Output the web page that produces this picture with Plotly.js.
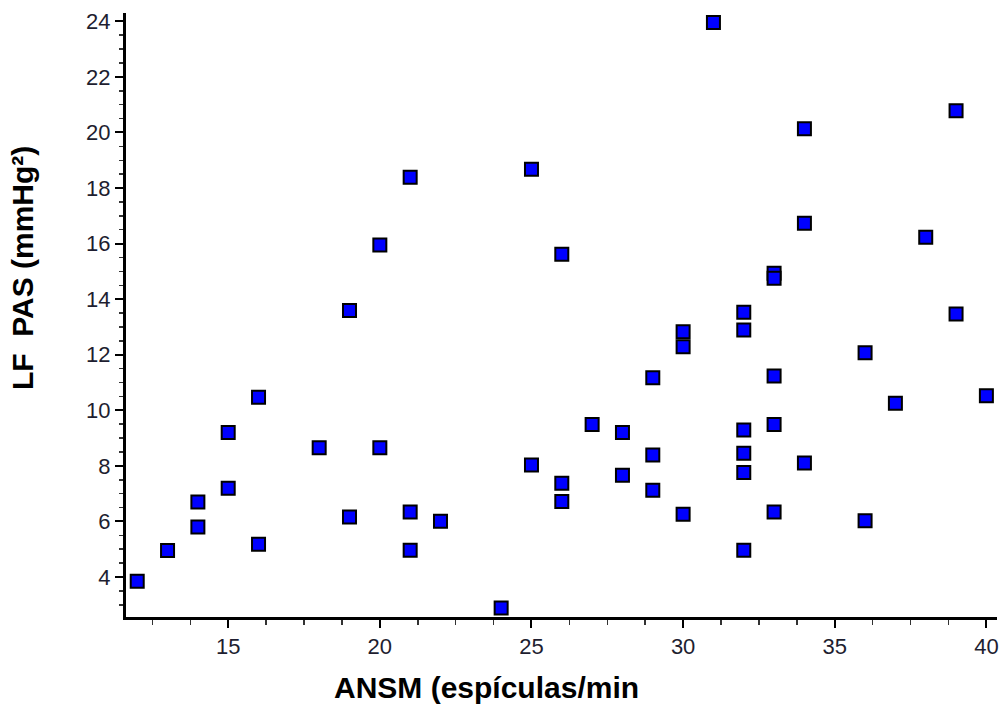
<!DOCTYPE html>
<html>
<head>
<meta charset="utf-8">
<script src="https://cdn.plot.ly/plotly-3.0.1.min.js"></script>
<style>
  html, body { margin: 0; padding: 0; background: #ffffff; }
  #chart { width: 1003px; height: 705px; }
</style>
</head>
<body>
<div id="chart"></div>
<script>
// ANSM (spikes per minute) against LF power of systolic pressure
const ansm = [
  12, 13, 14, 14, 15, 15, 16, 16, 18, 19, 19, 20, 20,
  21, 21, 21, 22, 24, 25, 25, 26, 26, 26, 27, 28, 28,
  29, 29, 29, 30, 30, 30, 31,
  32, 32, 32, 32, 32, 32,
  33, 33, 33, 33, 33,
  34, 34, 34, 36, 36, 37, 38, 39, 39, 40
];
const lfPas = [
  3.85, 4.95, 6.70, 5.80, 9.20, 7.19, 10.47, 5.18, 8.65, 13.59, 6.16, 15.95, 8.65,
  18.39, 6.34, 4.96, 6.01, 2.88, 18.68, 8.03, 15.62, 7.37, 6.72, 9.49, 9.20, 7.66,
  11.17, 8.39, 7.12, 12.83, 12.29, 6.26, 23.96,
  13.53, 12.89, 9.29, 8.45, 7.76, 4.96,
  14.93, 14.75, 11.23, 9.49, 6.34,
  20.13, 16.73, 8.10, 12.07, 6.02, 10.25, 16.23, 20.78, 13.47, 10.52
];

const xTitle = 'ANSM (espículas/min';
const yTitle = 'LF\u00a0 PAS (mmHg²)';

const tickFont = { family: 'Liberation Sans, Arial, sans-serif', size: 22, color: '#1e1e30' };
const titleFont = { family: 'Liberation Sans, Arial, sans-serif', size: 30, color: '#000000', weight: 'bold' };

const trace = {
  type: 'scatter',
  mode: 'markers',
  x: ansm,
  y: lfPas,
  marker: {
    symbol: 'square',
    size: 13,
    color: '#0000ff',
    line: { color: '#000000', width: 2 }
  },
  hoverinfo: 'x+y',
  showlegend: false
};

const layout = {
  width: 1003,
  height: 705,
  margin: { l: 126, r: 6, t: 13, b: 88 },
  paper_bgcolor: '#ffffff',
  plot_bgcolor: '#ffffff',
  xaxis: {
    range: [11.63, 40.35],
    tickmode: 'linear',
    tick0: 15,
    dtick: 5,
    ticks: 'outside',
    ticklen: 8,
    tickwidth: 2,
    tickcolor: '#000000',
    minor: { dtick: 1.25, tick0: 0, ticks: 'outside', ticklen: 5, tickwidth: 1.5, tickcolor: '#333333', showgrid: false },
    showline: true,
    linecolor: '#000000',
    linewidth: 3,
    showgrid: false,
    zeroline: false,
    tickfont: tickFont
  },
  yaxis: {
    range: [2.56, 24.3],
    tickmode: 'linear',
    tick0: 0,
    dtick: 2,
    ticks: 'outside',
    ticklen: 8,
    tickwidth: 2,
    tickcolor: '#000000',
    minor: { dtick: 0.5, tick0: 0, ticks: 'outside', ticklen: 4, tickwidth: 1.5, tickcolor: '#333333', showgrid: false },
    showline: true,
    linecolor: '#000000',
    linewidth: 3,
    showgrid: false,
    zeroline: false,
    tickfont: tickFont
  },
  annotations: [
    {
      text: xTitle,
      xref: 'paper', yref: 'paper',
      x: 0.414, y: -0.1167,
      xanchor: 'center', yanchor: 'middle',
      showarrow: false,
      font: titleFont
    },
    {
      text: yTitle,
      xref: 'paper', yref: 'paper',
      x: -0.118, y: 0.578,
      xanchor: 'center', yanchor: 'middle',
      textangle: -90,
      showarrow: false,
      font: titleFont
    }
  ]
};

Plotly.newPlot('chart', [trace], layout, { displayModeBar: false, staticPlot: true });
</script>
</body>
</html>
